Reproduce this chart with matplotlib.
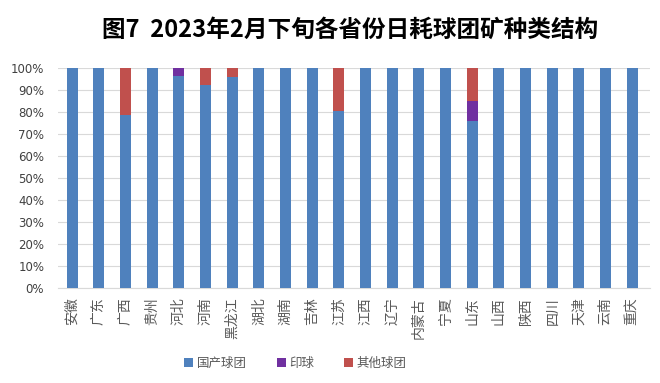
import numpy as np
import matplotlib.pyplot as plt

plt.rcParams['font.family'] = ['Noto Sans CJK SC', 'DejaVu Sans']

provinces = ['安徽', '广东', '广西', '贵州', '河北', '河南', '黑龙江', '湖北', '湖南', '吉林', '江苏',
             '江西', '辽宁', '内蒙古', '宁夏', '山东', '山西', '陕西', '四川', '天津', '云南', '重庆']
domestic = [100, 100, 78.5, 100, 96.4, 92.5, 96.2, 100, 100, 100, 80.5,
            100, 100, 100, 100, 76.0, 100, 100, 100, 100, 100, 100]
india = [0, 0, 0, 0, 3.6, 0, 0, 0, 0, 0, 0,
         0, 0, 0, 0, 9.0, 0, 0, 0, 0, 0, 0]
other = [0, 0, 21.5, 0, 0, 7.5, 3.8, 0, 0, 0, 19.5,
         0, 0, 0, 0, 15.0, 0, 0, 0, 0, 0, 0]

fig = plt.figure(figsize=(6.6, 3.83), dpi=100)
ax = fig.add_axes([0.088, 0.248, 0.897, 0.574])

x = np.arange(len(provinces))
w = 0.41
ax.bar(x, domestic, w, color='#4F81BD', label='国产球团', zorder=3)
ax.bar(x, india, w, bottom=domestic, color='#7030A0', label='印球', zorder=3)
ax.bar(x, other, w, bottom=np.array(domestic) + np.array(india), color='#C0504D',
       label='其他球团', zorder=3)

ax.set_ylim(0, 100)
ax.set_xlim(-0.53, len(provinces) - 0.33)
ax.set_yticks(range(0, 101, 10))
ax.set_yticklabels([f'{v}%' for v in range(0, 101, 10)], fontsize=8.5, color='#404040',
                   family=['DejaVu Sans'])
ax.set_xticks(x)
ax.set_xticklabels(provinces, rotation=90, fontsize=10, color='#595959')
ax.grid(axis='y', color='#D9D9D9', linewidth=0.8, zorder=0)
for s in ['top', 'right', 'left']:
    ax.spines[s].set_visible(False)
ax.spines['bottom'].set_color('#D9D9D9')
ax.tick_params(axis='x', length=0, pad=7)
ax.tick_params(axis='y', length=0, pad=10)

fig.text(0.53, 0.922, '图7  2023年2月下旬各省份日耗球团矿种类结构', ha='center', va='center',
         fontsize=17, fontweight='bold')
fig.legend(loc='center', bbox_to_anchor=(0.448, 0.052), ncol=3, frameon=False, fontsize=9,
           handlelength=0.7, handleheight=0.7, columnspacing=2.4, handletextpad=0.3,
           labelcolor='#595959')

fig.savefig('out.png', dpi=100)
